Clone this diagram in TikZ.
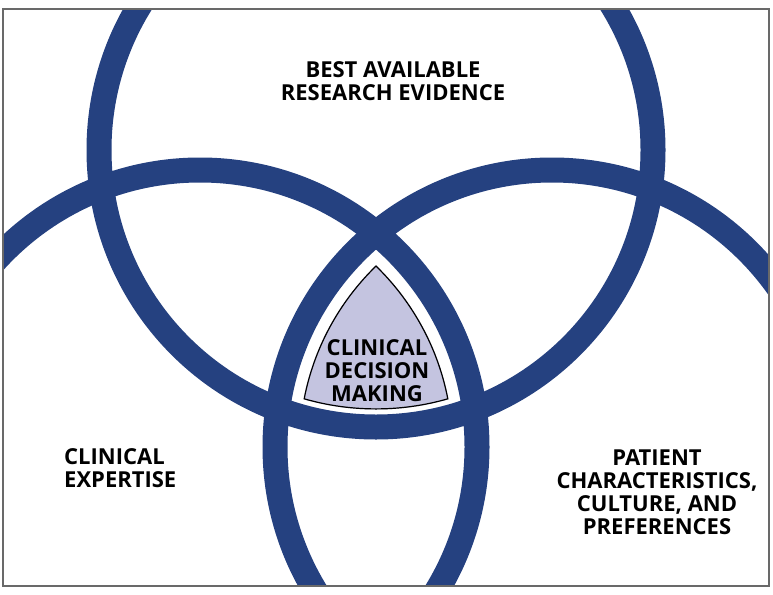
\documentclass[tikz,border=0pt]{standalone}
\usepackage{fontspec}
\setmainfont{Open Sans}
\usetikzlibrary{positioning}
\definecolor{ringblue}{RGB}{37,65,128}
\definecolor{lavender}{RGB}{196,196,224}
\definecolor{framegray}{RGB}{105,105,105}

\begin{document}
\begin{tikzpicture}[
                    x=1pt, y=-1pt,
                    ring/.style={
                        circle,
                        draw=ringblue,
                        line width=25pt,
                        minimum size=554pt,
                        inner sep=0pt
                    },
                    caption/.style={
                        font=\bfseries\fontsize{22}{23}\selectfont,
                        align=center,
                        inner sep=0pt
                    },
                    edge/.style={
                        draw=black,
                        line width=2.4pt
                    },
                    border/.style={
                        draw=framegray,
                        line width=1.5pt
                    }
                ]
                \useasboundingbox (0,0) rectangle (773,594);

                \begin{scope}
                    \clip (3,9) rectangle (769,586);
                    \node (research) [ring] at (376,150) {};
                    \node (expertise) [ring] at (200,447) {};
                    \node (patient) [ring] at (552,447) {};
                \end{scope}

                \begin{scope}
                    \clip (research.center) circle (259.5);
                    \clip (expertise.center) circle (253);
                    \clip (patient.center) circle (253);
                    \fill [lavender] (0,0) rectangle (773,594);
                    \draw [edge] (research.center) circle (259.5)
                                 (expertise.center) circle (253)
                                 (patient.center) circle (253);
                \end{scope}

                \node (researchtext) [caption] at (393,81.5) {BEST AVAILABLE\\RESEARCH EVIDENCE};
                \node (expertisetext) [caption, align=left, anchor=west] at (64,468.5) {CLINICAL\\EXPERTISE};
                \node (patienttext) [caption] at (657,492.5) {PATIENT\\CHARACTERISTICS,\\CULTURE, AND\\PREFERENCES};
                \node (decisiontext) [caption] at (377,370.5) {CLINICAL\\DECISION\\MAKING};

                \draw [border] (3,9) rectangle (769,586);
            \end{tikzpicture}
\end{document}
